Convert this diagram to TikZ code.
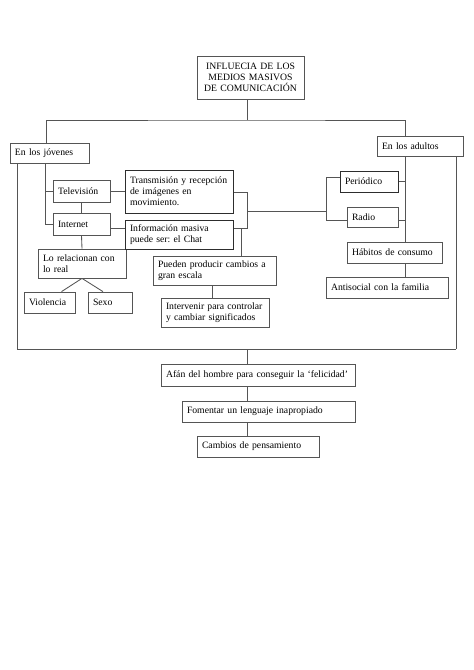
\documentclass[tikz,border=0pt]{standalone}
\usepackage{fontspec}
\setmainfont{Liberation Serif}
\frenchspacing
\definecolor{linec}{RGB}{85,85,85}
\definecolor{darkc}{RGB}{45,45,45}
\begin{document}
\begin{tikzpicture}[x=1pt,y=-1pt,
  box/.style={draw=linec, line width=0.75pt, inner xsep=5pt, inner ysep=0pt, align=left,
    font=\fontsize{9.7}{11}\selectfont, text=black},
  dbox/.style={box, draw=darkc, line width=1pt},
  conn/.style={draw=linec, line width=0.85pt}]
\useasboundingbox[fill=white] (0,0) rectangle (474,670);

% nodes
\node[box, align=center, text width=97pt, minimum height=43pt] (title) at (250.5,77.5) {INFLUECIA DE LOS\\MEDIOS MASIVOS\\DE COMUNICACIÓN};
\node[box, text width=69pt, minimum height=20pt] (jov) at (49.5,153) {En los jóvenes};
\node[box, text width=76pt, minimum height=20pt] (adu) at (420,146) {En los adultos};
\node[box, text width=47pt, minimum height=22pt] (tv) at (81.5,191) {Televisión};
\node[box, text width=47pt, minimum height=22pt] (int) at (81.5,224) {Internet};
\node[box, text width=78pt, minimum height=29pt] (rel) at (82,263.5) {Lo relacionan con\\lo real};
\node[box, text width=41pt, minimum height=21pt] (vio) at (49.5,302.5) {Violencia};
\node[box, text width=34pt, minimum height=21pt] (sex) at (110,302.5) {Sexo};
\node[dbox, text width=98pt, minimum height=43pt] (tr) at (179,191.5) {Transmisión y recepción\\de imágenes en\\movimiento.};
\node[dbox, text width=98pt, minimum height=29pt] (inf) at (179,234.5) {Información masiva\\puede ser: el Chat};
\node[box, text width=113pt, minimum height=29pt] (pue) at (214.5,270.5) {Pueden producir cambios a\\gran escala};
\node[box, text width=98pt, minimum height=29pt] (intv) at (215,312.5) {Intervenir para controlar\\y cambiar significados};
\node[dbox, text width=48pt, minimum height=21pt] (per) at (369,181.5) {Periódico};
\node[box, text width=41pt, minimum height=20pt] (rad) at (372.5,217) {Radio};
\node[box, text width=85pt, minimum height=21pt] (hab) at (394.5,252.5) {Hábitos de consumo};
\node[box, text width=112pt, minimum height=21pt] (ant) at (387,287.5) {Antisocial con la familia};
\node[box, text width=184pt, minimum height=22pt] (afan) at (258,375) {Afán del hombre para conseguir la ‘felicidad’};
\node[box, text width=163pt, minimum height=21pt] (fom) at (268.5,411.5) {Fomentar un lenguaje inapropiado};
\node[box, text width=112pt, minimum height=21pt] (cam) at (258,446.5) {Cambios de pensamiento};

% junction coordinates
\coordinate (top) at (247,120);
\coordinate (bar) at (247,349);
\coordinate (m1) at (247,192);
\coordinate (m2) at (247,228);
\coordinate (mm) at (247,211);
\coordinate (r1) at (326,177);
\coordinate (r2) at (326,220);
\coordinate (rm) at (326,211);
\coordinate (pj) at (241,228);

% top tree
\draw[conn] (title.south -| top) -- (top);
\draw[conn] (jov.north -| 46,0) |- (top) -| (adu.north -| 405,0);

% jovenes branch
\draw[conn] (jov.south -| 17,0) -- (17,349);
\draw[conn] (jov.south -| 45,0) |- (int.west);
\draw[conn] (45,191) -- (tv.west);
\draw[conn] (tv.south) -- (int.north);
\draw[conn] (int.south) -- (rel.north);
\draw[conn] (rel.south) -- ([xshift=12pt]vio.north);
\draw[conn] (rel.south) -- ([xshift=-7pt]sex.north);
\draw[conn] (tv.east) -- (tv.east -| tr.west);
\draw[conn] ([yshift=-4pt]int.east) -- ([yshift=-4pt]int.east -| inf.west);

% middle
\draw[conn] (tr.east |- m1) -- (m1) -- (m2) -- (inf.east |- m2);
\draw[conn] (pj) -- (pue.north -| pj);
\draw[conn] (mm) -- (rm);
\draw[conn] (per.west |- r1) -- (r1) -- (r2) -- (rad.west |- r2);
\draw[conn] (pue.south -| 212,0) -- (intv.north -| 212,0);

% adultos branch
\draw[conn] (adu.south -| 405,0) -- (hab.north -| 405,0);
\draw[conn] (per.east) -- (per.east -| 405,0);
\draw[conn] ([yshift=-3.5pt]rad.east) -- ([yshift=-3.5pt]rad.east -| 405,0);
\draw[conn] (hab.south -| 405,0) -- (ant.north -| 405,0);
\draw[conn] (adu.south -| 456,0) -- (456,349);

% bottom bar
\draw[conn] (17,349) -- (456,349);
\draw[conn] (bar) -- (afan.north -| bar);
\draw[conn] (afan.south -| bar) -- (fom.north -| bar);
\draw[conn] (fom.south -| bar) -- (cam.north -| bar);
\end{tikzpicture}
\end{document}
